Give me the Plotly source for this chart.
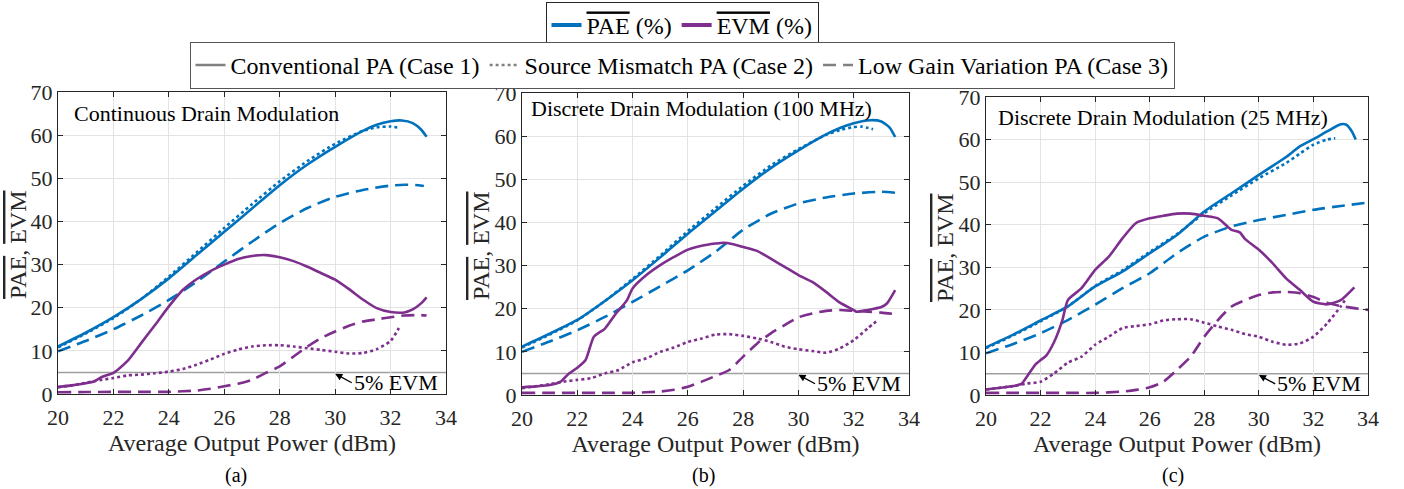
import plotly.graph_objects as go

# ---------------- data ----------------
# Panel (a) Continuous Drain Modulation
a_pae1_x = [20, 21, 22, 23, 24, 25, 26, 27, 28, 29, 30, 31, 31.5, 32, 32.4, 32.8, 33.1, 33.3]
a_pae1_y = [11.0, 14.2, 17.8, 22.0, 26.8, 32.2, 37.6, 43.0, 48.4, 53.2, 57.3, 61.0, 62.4, 63.2, 63.4, 62.8, 61.3, 59.6]
a_pae2_x = [20, 21, 22, 23, 24, 25, 26, 27, 28, 29, 30, 31, 31.5, 32, 32.3]
a_pae2_y = [10.8, 14.0, 17.6, 22.0, 27.2, 32.8, 38.5, 44.0, 49.3, 54.0, 58.0, 61.0, 61.8, 62.0, 61.7]
a_pae3_x = [20, 21, 22, 23, 24, 25, 26, 27, 28, 29, 30, 31, 32, 32.5, 33, 33.2]
a_pae3_y = [9.9, 12.3, 15.0, 18.2, 21.8, 26.0, 30.7, 35.3, 39.6, 43.1, 45.7, 47.3, 48.3, 48.5, 48.4, 48.2]
a_evm1_x = [20, 20.5, 21, 21.3, 21.6, 22, 22.5, 23, 23.5, 24, 24.5, 25, 25.5, 26, 26.5, 27, 27.5, 28, 28.5,
            29, 29.5, 30, 30.5, 31, 31.5, 32, 32.5, 32.8, 33.1, 33.3]
a_evm1_y = [1.6, 2.0, 2.5, 2.9, 4.0, 4.9, 7.6, 11.8, 16.0, 20.3, 24.1, 26.6, 28.5, 30.0, 31.3, 32.0, 32.2, 31.7, 30.8,
            29.5, 28.0, 26.5, 24.3, 21.9, 19.9, 19.0, 18.9, 19.6, 21.0, 22.4]
a_evm2_x = [20, 20.5, 21, 21.5, 22, 22.5, 23, 23.5, 24, 24.5, 25, 25.5, 26, 26.5, 27, 27.5, 28, 28.5, 29, 29.5,
            30, 30.5, 31, 31.5, 32, 32.3]
a_evm2_y = [1.6, 2.0, 2.6, 3.2, 3.7, 4.3, 4.5, 4.8, 5.2, 5.8, 6.8, 8.0, 9.3, 10.3, 11.0, 11.3, 11.3, 11.0, 10.6, 10.2,
            9.8, 9.4, 9.5, 10.4, 12.3, 15.3]
a_evm3_x = [20, 21, 22, 23, 24, 25, 25.5, 26, 26.5, 27, 27.5, 28, 28.5, 29, 29.5, 30, 30.5, 31, 31.5, 32, 32.5, 33, 33.3]
a_evm3_y = [0.4, 0.45, 0.5, 0.5, 0.5, 0.8, 1.2, 1.8, 2.4, 3.3, 4.9, 6.4, 8.7, 11.0, 13.0, 14.5, 15.8, 16.8, 17.3, 17.8,
            18.2, 18.3, 18.2]

# Panel (b) Discrete Drain Modulation (100 MHz)
b_pae1_x = [20, 21, 22, 23, 24, 25, 26, 27, 28, 29, 30, 31, 31.5, 32, 32.6, 33, 33.3, 33.5]
b_pae1_y = [11.2, 14.2, 17.4, 21.8, 26.6, 31.9, 37.4, 42.6, 47.8, 52.6, 56.7, 60.4, 61.9, 63.0, 63.7, 63.4, 62.0, 59.8]
b_pae2_x = [20, 21, 22, 23, 24, 25, 26, 27, 28, 29, 30, 31, 31.5, 32, 32.3, 32.7]
b_pae2_y = [11.0, 14.0, 17.3, 21.8, 26.9, 32.3, 38.0, 43.3, 48.5, 53.2, 57.0, 60.3, 61.4, 62.1, 62.2, 61.6]
b_pae3_x = [20, 21, 22, 23, 24, 25, 26, 27, 28, 29, 30, 31, 32, 33, 33.6]
b_pae3_y = [10.0, 12.4, 15.0, 18.1, 21.6, 25.2, 28.9, 33.2, 38.3, 42.0, 44.4, 45.8, 46.7, 47.1, 46.8]
b_evm1_x = [20, 20.5, 21, 21.4, 21.7, 22, 22.3, 22.6, 23, 23.4, 23.8, 24, 24.5, 25, 25.5, 26, 26.5, 27, 27.3, 27.6,
            28, 28.5, 29, 29.5, 30, 30.5, 31, 31.5, 32, 32.1, 32.5, 33, 33.2, 33.5]
b_evm1_y = [1.8, 2.0, 2.3, 3.1, 5.0, 6.3, 8.1, 13.5, 15.4, 18.9, 22.0, 24.7, 27.8, 30.1, 32.0, 33.7, 34.6, 35.1, 35.3,
            35.0, 34.3, 33.4, 31.6, 29.7, 27.8, 26.2, 23.9, 21.4, 19.7, 19.3, 19.7, 20.4, 21.2, 24.3]
b_evm2_x = [20, 21, 21.5, 22, 22.5, 23, 23.5, 24, 24.5, 25, 25.5, 26, 26.5, 27, 27.5, 28, 28.5, 29, 29.5, 30, 30.5,
            31, 31.5, 32, 32.5, 32.9]
b_evm2_y = [1.6, 2.5, 3.1, 3.5, 3.9, 5.0, 5.8, 7.6, 8.5, 10.0, 11.0, 12.3, 13.1, 14.0, 14.1, 13.7, 13.1, 12.3, 11.2,
            10.6, 10.2, 9.8, 10.8, 12.7, 15.4, 17.5]
b_evm3_x = [20, 21, 22, 23, 24, 25, 25.5, 26, 26.5, 27, 27.5, 28, 28.5, 29, 29.5, 30, 30.5, 31, 31.5, 32, 32.5, 33, 33.6]
b_evm3_y = [0.5, 0.5, 0.5, 0.5, 0.5, 0.8, 1.2, 1.9, 3.1, 4.4, 5.8, 8.9, 11.9, 14.3, 16.2, 18.0, 18.9, 19.5, 19.7, 19.5,
            19.3, 19.1, 18.7]

# Panel (c) Discrete Drain Modulation (25 MHz)
c_pae1_x = [20, 21, 22, 23, 24, 25, 26, 27, 28, 29, 30, 31, 31.5, 32, 32.5, 33, 33.2, 33.4, 33.55]
c_pae1_y = [11.2, 14.2, 17.5, 20.8, 25.5, 29.0, 33.3, 37.6, 43.1, 47.4, 51.7, 55.9, 58.4, 60.1, 61.9, 63.6, 63.5,
            62.0, 60.0]
c_pae2_x = [20, 21, 22, 23, 24, 25, 26, 27, 28, 29, 30, 31, 31.5, 32, 32.5, 32.8]
c_pae2_y = [11.0, 14.0, 17.3, 20.8, 25.6, 29.3, 33.6, 37.8, 42.7, 46.9, 50.9, 54.5, 56.7, 58.8, 60.0, 60.3]
c_pae3_x = [20, 21, 22, 23, 24, 25, 26, 27, 28, 29, 30, 31, 32, 33, 34]
c_pae3_y = [9.8, 12.0, 14.5, 17.6, 21.2, 25.1, 28.6, 33.3, 37.2, 39.6, 41.1, 42.3, 43.5, 44.4, 45.2]
c_evm1_x = [20, 21, 21.3, 21.5, 21.8, 22, 22.2, 22.5, 22.8, 23, 23.5, 24, 24.5, 25, 25.5, 26, 26.5, 27, 27.5, 28,
            28.5, 29, 29.3, 29.5, 30, 30.5, 31, 31.5, 32, 32.5, 33, 33.5]
c_evm1_y = [1.3, 2.1, 2.6, 4.3, 7.1, 8.2, 9.2, 12.5, 17.6, 22.3, 25.1, 29.4, 32.5, 36.8, 40.4, 41.5, 42.1, 42.6, 42.6,
            42.1, 41.5, 38.8, 38.2, 36.6, 34.1, 31.0, 27.4, 24.7, 21.9, 21.3, 22.3, 25.3]
c_evm2_x = [20, 21, 21.5, 22, 22.5, 23, 23.5, 24, 24.5, 25, 25.5, 26, 26.5, 27, 27.5, 28, 28.5, 29, 29.5, 30, 30.5,
            31, 31.5, 32, 32.5, 33, 33.2]
c_evm2_y = [1.3, 2.1, 2.7, 3.1, 5.1, 7.6, 9.0, 11.8, 13.7, 15.7, 16.2, 16.6, 17.5, 17.8, 17.8, 17.0, 16.1, 15.3, 14.3,
            13.7, 12.5, 11.8, 12.1, 13.7, 16.8, 20.8, 22.7]
c_evm3_x = [20, 21, 22, 23, 24, 25, 25.5, 26, 26.5, 27, 27.5, 28, 28.5, 29, 29.5, 30, 30.5, 31, 31.5, 32, 32.5, 33,
            33.5, 34]
c_evm3_y = [0.5, 0.5, 0.5, 0.5, 0.5, 0.8, 1.2, 1.8, 3.1, 5.9, 9.0, 13.7, 17.6, 20.8, 22.3, 23.5, 24.1, 24.2, 23.9,
            23.0, 21.7, 20.9, 20.4, 20.0]

panel_titles = ["Continuous Drain Modulation", "Discrete Drain Modulation (100 MHz)",
                "Discrete Drain Modulation (25 MHz)"]
panel_labels = ["(a)", "(b)", "(c)"]
case_names = ["Conventional PA (Case 1)", "Source Mismatch PA (Case 2)", "Low Gain Variation PA (Case 3)"]
evm_limit = 5
x_range = [20, 34]
y_range = [0, 70]
x_ticks = [20, 22, 24, 26, 28, 30, 32, 34]
y_ticks = [0, 10, 20, 30, 40, 50, 60, 70]

# ---------------- style ----------------
BLUE = "#0072BD"
PURPLE = "#7E2F8E"
GRAY = "#808080"
FONT = "Liberation Serif, Times New Roman, serif"
TXT = "#262626"
dashes = ["solid", "dot", "13px,7px"]
W = 1404
H = 489

# pixel boxes of the three axes (left, right, top, bottom)
boxes = [(58, 446, 92, 394), (522, 909, 93, 395), (986, 1368, 97, 395)]
ytitle_x = [18, 481, 945]

panels = [
    [(a_pae1_x, a_pae1_y), (a_pae2_x, a_pae2_y), (a_pae3_x, a_pae3_y),
     (a_evm1_x, a_evm1_y), (a_evm2_x, a_evm2_y), (a_evm3_x, a_evm3_y)],
    [(b_pae1_x, b_pae1_y), (b_pae2_x, b_pae2_y), (b_pae3_x, b_pae3_y),
     (b_evm1_x, b_evm1_y), (b_evm2_x, b_evm2_y), (b_evm3_x, b_evm3_y)],
    [(c_pae1_x, c_pae1_y), (c_pae2_x, c_pae2_y), (c_pae3_x, c_pae3_y),
     (c_evm1_x, c_evm1_y), (c_evm2_x, c_evm2_y), (c_evm3_x, c_evm3_y)],
]

fig = go.Figure()
ov = '<span style="text-decoration:overline">{}</span>'

for p, series in enumerate(panels):
    xa = "x" if p == 0 else f"x{p+1}"
    ya = "y" if p == 0 else f"y{p+1}"
    for k, (xs, ys) in enumerate(series):
        color = BLUE if k < 3 else PURPLE
        fig.add_trace(go.Scatter(
            x=xs, y=ys, mode="lines", xaxis=xa, yaxis=ya, showlegend=False,
            line=dict(color=color, width=2.6, dash=dashes[k % 3], shape="spline", smoothing=0.6),
            hoverinfo="skip"))
    # 5% EVM line
    fig.add_shape(type="line", xref=xa, yref=ya, x0=x_range[0], x1=x_range[1], y0=evm_limit, y1=evm_limit,
                  line=dict(color="#a0a0a0", width=1.5), layer="below")
    fig.add_annotation(xref=xa, yref=ya, x=30.0, y=4.7, ax=30.6, ay=2.6, axref=xa, ayref=ya,
                       text="5% EVM", xanchor="left", yanchor="middle", showarrow=True,
                       arrowhead=2, arrowsize=1.1, arrowwidth=1.3, arrowcolor="#000000",
                       font=dict(family=FONT, size=22, color="#000000"))
    fig.add_annotation(xref=f"{xa} domain", yref=f"{ya} domain",
                       x=[0.036, 0.018, 0.026][p], y=[0.93, 0.95, 0.93][p],
                       text=panel_titles[p], showarrow=False, xanchor="left", yanchor="middle",
                       font=dict(family=FONT, size=22, color="#000000"))
    l, r, t, b = boxes[p]
    # y-axis title
    fig.add_annotation(xref="paper", yref="paper", x=ytitle_x[p] / W, y=1 - ((t + b) / 2 + 2) / H,
                       text=ov.format("PAE") + ", " + ov.format("EVM"), textangle=-90, showarrow=False,
                       xanchor="center", yanchor="middle", font=dict(family=FONT, size=24, color=TXT))
    fig.add_annotation(xref="paper", yref="paper", x=[236, 703, 1173][p] / W, y=1 - 475 / H,
                       text=panel_labels[p], showarrow=False, xanchor="center", yanchor="middle",
                       font=dict(family=FONT, size=20, color="#000000"))

# legend entries
fig.add_trace(go.Scatter(x=[None], y=[None], mode="lines", name=ov.format("PAE") + " (%)",
                         line=dict(color=BLUE, width=4), legend="legend"))
fig.add_trace(go.Scatter(x=[None], y=[None], mode="lines", name=ov.format("EVM") + " (%)",
                         line=dict(color=PURPLE, width=4), legend="legend"))
for k, nm in enumerate(case_names):
    fig.add_trace(go.Scatter(x=[None], y=[None], mode="lines", name=nm,
                             line=dict(color=GRAY, width=2.5, dash=dashes[k]), legend="legend2"))

axis_common = dict(range=x_range, showgrid=True, gridcolor="#e3e3e3", gridwidth=1, zeroline=False,
                   showline=True, linecolor=TXT, linewidth=1, mirror="ticks", ticks="inside", ticklen=5,
                   tickcolor=TXT, tickfont=dict(family=FONT, size=22, color=TXT), automargin=False)

layout = dict(
    template="none",
    width=W, height=H, margin=dict(l=0, r=0, t=0, b=0, autoexpand=False),
    paper_bgcolor="white", plot_bgcolor="white",
    font=dict(family=FONT, size=22, color=TXT),
    legend=dict(orientation="h", x=682 / W, xanchor="center", y=1 - 2 / H, yanchor="top",
                bordercolor="#262626", borderwidth=1, bgcolor="white",
                font=dict(family=FONT, size=24, color="#000000"), itemwidth=30),
    legend2=dict(orientation="h", x=682 / W, xanchor="center", y=1 - 42 / H, yanchor="top",
                 bordercolor="#555555", borderwidth=1, bgcolor="white",
                 font=dict(family=FONT, size=24, color="#000000"), itemwidth=30),
)
for p, (l, r, t, b) in enumerate(boxes):
    suffix = "" if p == 0 else str(p + 1)
    layout[f"xaxis{suffix}"] = dict(axis_common, domain=[l / W, r / W], anchor=f"y{suffix}",
                                    tickvals=x_ticks, ticklabelstandoff=4,
                                    title=dict(text="Average Output Power (dBm)", standoff=4,
                                               font=dict(family=FONT, size=24, color=TXT)))
    layout[f"yaxis{suffix}"] = dict(axis_common, range=y_range, domain=[1 - b / H, 1 - t / H],
                                    anchor=f"x{suffix}", tickvals=y_ticks)
fig.update_layout(**layout)
fig.write_html("out.html", config={"displayModeBar": False},
               post_script="document.body.style.margin='0';document.body.style.overflow='hidden';")
